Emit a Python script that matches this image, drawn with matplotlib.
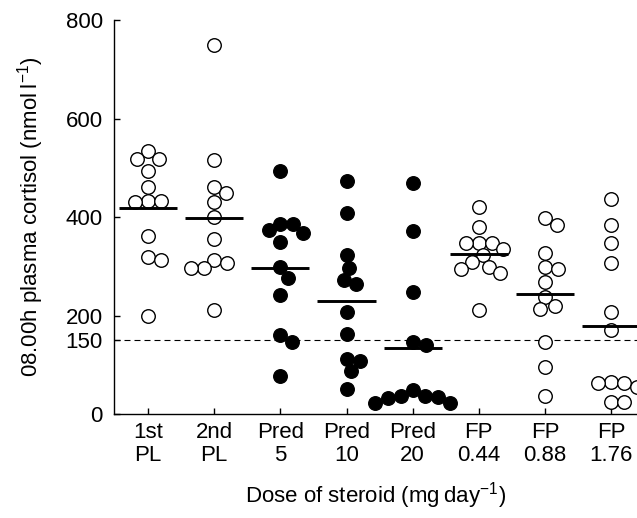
# cortisol_doses.py - 08.00h plasma cortisol by steroid dose (swarm + mean bars)
import numpy as np
import matplotlib
matplotlib.use('Agg')
import matplotlib.pyplot as plt

plt.rcParams['font.family'] = ['Liberation Sans', 'DejaVu Sans']
plt.rcParams['mathtext.default'] = 'regular'

# values (nmol/l)
groups = ['1st\nPL', '2nd\nPL', 'Pred\n5', 'Pred\n10', 'Pred\n20',
          'FP\n0.44', 'FP\n0.88', 'FP\n1.76']
filled = [False, False, True, True, True, False, False, False]
first_pl = [534, 519, 519, 493, 461, 432, 430, 432, 362, 318, 313, 200]
second_pl = [750, 517, 461, 449, 431, 401, 356, 306, 296, 296, 313, 212]
pred_5 = [493, 386, 386, 373, 367, 350, 299, 277, 241, 160, 146, 78]
pred_10 = [473, 408, 323, 297, 273, 265, 207, 162, 112, 107, 87, 50]
pred_20 = [470, 372, 247, 147, 140, 48, 37, 37, 35, 33, 23, 23]
fp_044 = [420, 379, 348, 348, 348, 335, 323, 308, 299, 294, 286, 212]
fp_088 = [398, 384, 327, 299, 294, 269, 238, 219, 214, 146, 95, 36]
fp_176 = [437, 384, 347, 307, 207, 170, 64, 63, 62, 55, 25, 25]
data = [first_pl, second_pl, pred_5, pred_10, pred_20, fp_044, fp_088, fp_176]
cutoff = 150

fig = plt.figure(figsize=(6.37, 5.18), dpi=100)
ax = fig.add_axes([0.179, 0.2008, 0.821, 0.7602])
ax.set_xlim(0.486, 8.39)
ax.set_ylim(0, 800)


def swarm(x0, ys, diam_px):
    # place points side by side in pixel space so circles don't overlap
    pts = ax.transData.transform(np.column_stack([np.full(len(ys), x0), ys]))
    placed = []
    xs = []
    for px, py in pts:
        k = 0
        while True:
            step = (k + 1) // 2 * 0.5 * (1 if k % 2 else -1)
            cx = px + step
            if all((cx - qx) ** 2 + (py - qy) ** 2 >= diam_px ** 2 for qx, qy in placed):
                break
            k += 1
        placed.append((cx, py))
        xs.append(cx)
    back = ax.transData.inverted().transform(np.column_stack([xs, pts[:, 1]]))
    return back[:, 0]


for i, (vals, solid) in enumerate(zip(data, filled)):
    pos = i + 1
    order = sorted(vals, reverse=True)
    xs = swarm(pos, order, 13.0)
    ax.scatter(xs, order, s=95, facecolor='black' if solid else 'white',
               edgecolor='black', linewidths=1.0, zorder=3, clip_on=False)
    ax.hlines(np.mean(vals), pos - 0.44, pos + 0.44, color='black', lw=2.1, zorder=4)

ax.axhline(cutoff, color='black', lw=0.8, ls=(0, (5.4, 3.6)), zorder=2)

ax.set_xticks(range(1, len(groups) + 1))
ax.set_xticklabels(groups, fontsize=16, linespacing=1.1)
ax.set_yticks([0, 150, 200, 400, 600, 800])
ax.tick_params(axis='both', direction='in', length=4.5, width=1.0, labelsize=16)
ax.tick_params(axis='x', pad=6)
ax.tick_params(axis='y', pad=8)
for side in ['top', 'right']:
    ax.spines[side].set_visible(False)
for side in ['left', 'bottom']:
    ax.spines[side].set_linewidth(1.0)

ax.set_ylabel('08.00h plasma cortisol (nmol\u2009l$^{-1}$)', fontsize=16, labelpad=14)
ax.set_xlabel('Dose of steroid (mg\u2009day$^{-1}$)', fontsize=16, labelpad=10)

fig.savefig('out.png', dpi=100)
